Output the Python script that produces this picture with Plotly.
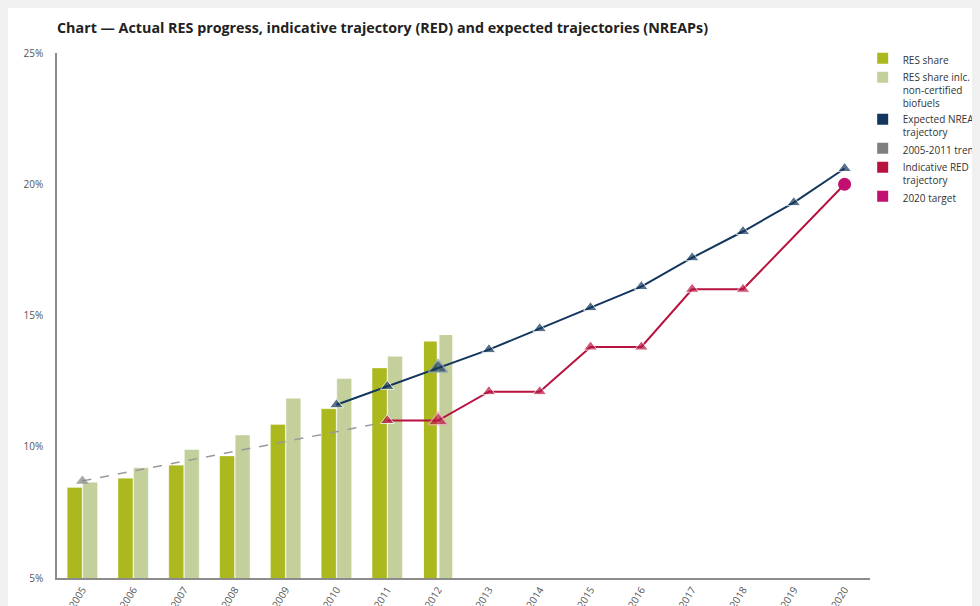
import plotly.graph_objects as go

years = [str(y) for y in range(2005, 2021)]
bar_years = ["2005", "2006", "2007", "2008", "2009", "2010", "2011", "2012"]
res_share = [8.45, 8.8, 9.3, 9.65, 10.85, 11.45, 13.0, 14.05]
res_share_incl = [8.65, 9.2, 9.9, 10.45, 11.85, 12.6, 13.45, 14.3]

nreap_years = ["2010", "2011", "2012", "2013", "2014", "2015", "2016", "2017", "2018", "2019", "2020"]
nreap = [11.6, 12.3, 13.0, 13.7, 14.5, 15.3, 16.1, 17.2, 18.2, 19.3, 20.6]

trend_years = ["2005", "2011"]
trend = [8.7, 10.95]

red_years = ["2011", "2012", "2013", "2014", "2015", "2016", "2017", "2018", "2020"]
red = [11.0, 11.0, 12.1, 12.1, 13.8, 13.8, 16.0, 16.0, 20.0]

target_years = ["2020"]
target = [20.0]

C_RES = "#abb91f"
C_RES2 = "#c3d09b"
C_BLUE = "#13365e"
C_GRAY = "#7f7f7f"
C_RED = "#b8123f"
C_TARGET = "#c1106f"

fig = go.Figure()

# bars
fig.add_trace(go.Bar(
    x=bar_years, y=res_share, marker=dict(color=C_RES,
    line=dict(color=["rgba(255,255,255,0.4)"] * 7 + ["white"], width=[0.8] * 7 + [2])),
    showlegend=False, hoverinfo="skip"))
fig.add_trace(go.Bar(
    x=bar_years, y=res_share_incl, marker=dict(color=C_RES2,
    line=dict(color=["rgba(255,255,255,0.6)"] * 7 + ["white"], width=[0.8] * 7 + [2])),
    showlegend=False, hoverinfo="skip"))

# trend
fig.add_trace(go.Scatter(
    x=trend_years, y=trend, mode="lines+markers",
    line=dict(color="#999999", width=1.5, dash="dash"),
    marker=dict(symbol="triangle-up", size=[10, 0], color=C_GRAY),
    showlegend=False, hoverinfo="skip"))

# NREAP
fig.add_trace(go.Scatter(
    x=nreap_years, y=nreap, mode="lines+markers",
    line=dict(color=C_BLUE, width=2),
    marker=dict(symbol="triangle-up", color=C_BLUE,
                size=[12, 12, 17, 12, 12, 12, 12, 12, 12, 12, 12],
                line=dict(color=["white", "white", "#8fa3bd"] + ["white"] * 8,
                          width=[1, 1, 1.5] + [1] * 8)),
    showlegend=False, hoverinfo="skip"))

# RED
fig.add_trace(go.Scatter(
    x=red_years, y=red, mode="lines+markers",
    line=dict(color=C_RED, width=2),
    marker=dict(symbol="triangle-up", color=C_RED,
                size=[12, 17, 12, 12, 12, 12, 12, 12, 0],
                line=dict(color=["white", "#f0a8bb"] + ["white"] * 7,
                          width=[1, 1.5] + [1] * 7)),
    showlegend=False, hoverinfo="skip"))

# target
fig.add_trace(go.Scatter(
    x=target_years, y=target, mode="markers",
    marker=dict(symbol="circle", size=13, color=C_TARGET),
    showlegend=False, hoverinfo="skip"))

# legend entries
legend_items = [
    ("RES share", C_RES),
    ("RES share inlc.<br>non-certified<br>biofuels", C_RES2),
    ("Expected NREAP<br>trajectory", C_BLUE),
    ("2005-2011 trend", C_GRAY),
    ("Indicative RED<br>trajectory", C_RED),
    ("2020 target", C_TARGET),
]
for name, col in legend_items:
    fig.add_trace(go.Scatter(
        x=[None], y=[None], mode="markers", name=name,
        marker=dict(symbol="square", size=11, color=col)))

fig.update_layout(
    width=980, height=606,
    margin=dict(l=49, r=118, t=45, b=36, autoexpand=False),
    paper_bgcolor="white",
    plot_bgcolor="rgba(0,0,0,0)",
    barmode="group",
    bargap=0.39,
    bargroupgap=0.04,
    font=dict(family="Open Sans", size=10, color="#333333"),
    title=dict(
        text="<b>Chart — Actual RES progress, indicative trajectory (RED) and expected trajectories (NREAPs)</b>",
        x=49 / 980, xanchor="left", y=1 - 20 / 606, yanchor="middle",
        font=dict(family="Open Sans", size=14.3, color="#222222")),
    legend=dict(x=0.991, y=1.015, xanchor="left", yanchor="top",
                valign="top", traceorder="normal",
                font=dict(family="Open Sans", size=10, color="#333333"),
                bgcolor="rgba(0,0,0,0)", tracegroupgap=0, itemwidth=30),
    xaxis=dict(type="category", categoryorder="array", categoryarray=years,
               range=[-0.5, 15.5], showgrid=False, showline=True,
               linecolor="#8c8c8c", linewidth=2, ticks="", automargin=False,
               tickangle=-58, tickfont=dict(size=10, color="#555555")),
    yaxis=dict(range=[5, 25], dtick=5, ticksuffix="%", showgrid=False,
               showline=True, linecolor="#8c8c8c", linewidth=1.5,
               ticks="", zeroline=False, automargin=False,
               ticklabelstandoff=10,
               tickfont=dict(size=10, color="#555555")),
)

fig.write_html("out.html", post_script="document.body.style.background='#f0f0f0';")
